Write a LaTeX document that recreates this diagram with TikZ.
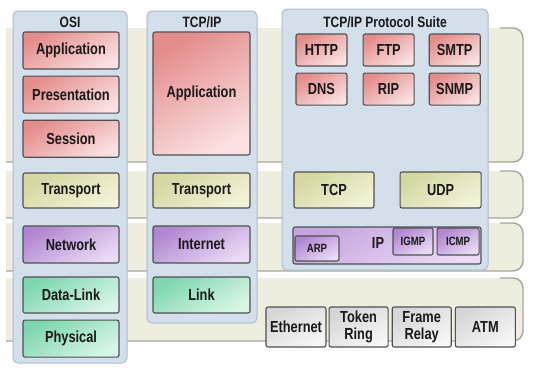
\documentclass[tikz,border=0pt]{standalone}
\usepackage{fontspec}
\setmainfont{Liberation Sans}[FakeStretch=0.8]
\usepackage{tikz}
\usetikzlibrary{positioning}
\definecolor{lyBand}{RGB}{238,238,222}
\definecolor{lyEdge}{RGB}{165,165,155}
\definecolor{lyCol}{RGB}{211,224,236}
\definecolor{lyColLine}{RGB}{170,188,206}
\definecolor{lyLine}{RGB}{80,80,80}
\definecolor{lyText}{RGB}{25,25,25}
\definecolor{redDark}{RGB}{228,140,140}
\definecolor{redLight}{RGB}{250,224,224}
\definecolor{oliveDark}{RGB}{214,214,160}
\definecolor{oliveLight}{RGB}{242,242,216}
\definecolor{violetDark}{RGB}{176,134,208}
\definecolor{violetLight}{RGB}{234,218,246}
\definecolor{greenDark}{RGB}{126,214,174}
\definecolor{greenLight}{RGB}{216,246,230}
\definecolor{grayDark}{RGB}{214,214,214}
\definecolor{grayLight}{RGB}{246,246,246}

\begin{document}
\begin{tikzpicture}[
  x=1pt, y=-1pt,
  band/.style={fill=lyBand},
  bandEdge/.style={draw=lyEdge, line width=1.4pt},
  col/.style={draw=lyColLine, line width=1pt, fill=lyCol, rounded corners=5pt, inner sep=0pt},
  title/.style={inner sep=0pt, text=lyText, font=\bfseries\fontsize{15}{16}\selectfont},
  layer/.style={draw=lyLine, line width=1.1pt, rounded corners=2pt, inner sep=0pt, align=center,
    text=lyText, font=\bfseries\fontsize{16}{17}\selectfont},
  small/.style={font=\bfseries\fontsize{12}{13}\selectfont},
  appBox/.style={layer, top color=redDark, bottom color=redLight, shading angle=30},
  transBox/.style={layer, top color=oliveDark, bottom color=oliveLight, shading angle=30},
  netBox/.style={layer, top color=violetDark, bottom color=violetLight, shading angle=30},
  linkBox/.style={layer, top color=greenDark, bottom color=greenLight, shading angle=30},
  hwBox/.style={layer, top color=grayDark, bottom color=grayLight, shading angle=30},
  proto/.style={appBox, minimum width=51pt, minimum height=32pt}
]
\useasboundingbox (0,0) rectangle (533,370);

% layer bands
\fill[band] (6,28) rectangle (510,162);
\fill[band, rounded corners=10pt] (490,28) rectangle (523,162);
\draw[bandEdge, rounded corners=10pt] (6,162) -- (523,162) -- (523,28) -- (500,28);
\fill[band] (6,171) rectangle (510,218);
\fill[band, rounded corners=10pt] (490,171) rectangle (523,218);
\draw[bandEdge, rounded corners=10pt] (6,218) -- (523,218) -- (523,171) -- (500,171);
\fill[band] (6,223) rectangle (510,271);
\fill[band, rounded corners=10pt] (490,223) rectangle (523,271);
\draw[bandEdge, rounded corners=10pt] (6,271) -- (523,271) -- (523,223) -- (500,223);
\fill[band] (6,278) rectangle (510,341);
\fill[band, rounded corners=10pt] (490,278) rectangle (523,341);
\draw[bandEdge, rounded corners=10pt] (6,341) -- (523,341) -- (523,278) -- (500,278);

% columns
\node[col, minimum width=114pt, minimum height=352pt] (osiCol) at (70,187) {};
\node[col, minimum width=110pt, minimum height=312pt] (tcpCol) at (202,167) {};
\node[col, minimum width=206pt, minimum height=261pt] (suiteCol) at (385,139.5) {};
\node[title] (osiTitle) at (70,22) {OSI};
\node[title] (tcpTitle) at (202,22) {TCP/IP};
\node[title] (suiteTitle) at (385,22) {TCP/IP Protocol Suite};

% OSI
\node[appBox, minimum width=96pt, minimum height=37pt] (osiApp) at (71,50.5) {Application};
\node[appBox, minimum width=96pt, minimum height=37pt, below=6pt of osiApp] (osiPres) {Presentation};
\node[appBox, minimum width=96pt, minimum height=37pt, below=6pt of osiPres] (osiSess) {Session};
\node[transBox, minimum width=96pt, minimum height=35pt] (osiTrans) at (71,190.5) {Transport};
\node[netBox, minimum width=96pt, minimum height=37pt] (osiNet) at (71,244.5) {Network};
\node[linkBox, minimum width=96pt, minimum height=36pt] (osiLink) at (71,295) {Data-Link};
\node[linkBox, minimum width=96pt, minimum height=37pt, below=6pt of osiLink] (osiPhys) {Physical};

% TCP/IP
\node[appBox, minimum width=97pt, minimum height=123pt] (tcpApp) at (201.5,93.5) {Application};
\node[transBox, minimum width=97pt, minimum height=35pt] (tcpTrans) at (201.5,190.5) {Transport};
\node[netBox, minimum width=97pt, minimum height=37pt] (tcpNet) at (201.5,244.5) {Internet};
\node[linkBox, minimum width=97pt, minimum height=36pt] (tcpLink) at (201.5,295) {Link};

% protocol suite
\node[proto] (http) at (321.5,50) {HTTP};
\node[proto, right=15pt of http] (ftp) {FTP};
\node[proto, right=14pt of ftp] (smtp) {SMTP};
\node[proto, below=6pt of http] (dns) {DNS};
\node[proto, below=6pt of ftp] (rip) {RIP};
\node[proto, below=6pt of smtp] (snmp) {SNMP};
\node[transBox, minimum width=80pt, minimum height=36pt] (tcp) at (334,190) {TCP};
\node[transBox, minimum width=81pt, minimum height=36pt, right=25pt of tcp] (udp) {UDP};
\node[layer, top color=violetDark!75, bottom color=violetLight, shading angle=30,
  minimum width=188pt, minimum height=37pt] (ipBox) at (387,245.5) {};
\node[title, font=\bfseries\fontsize{16}{17}\selectfont] (ipLabel) at (378,243) {IP};
\node[netBox, small, minimum width=44pt, minimum height=25pt] (arp) at (317,248.5) {ARP};
\node[netBox, small, minimum width=40pt, minimum height=27pt] (igmp) at (413,241.5) {IGMP};
\node[netBox, small, minimum width=42pt, minimum height=27pt, right=3pt of igmp] (icmp) {ICMP};

% link technologies
\node[hwBox, minimum width=60pt, minimum height=40pt] (ethernet) at (296,327) {Ethernet};
\node[hwBox, minimum width=59pt, minimum height=40pt, right=2pt of ethernet] (token) {Token\\Ring};
\node[hwBox, minimum width=59pt, minimum height=40pt, right=3pt of token] (frame) {Frame\\Relay};
\node[hwBox, minimum width=60pt, minimum height=40pt, right=3pt of frame] (atm) {ATM};
\end{tikzpicture}
\end{document}
